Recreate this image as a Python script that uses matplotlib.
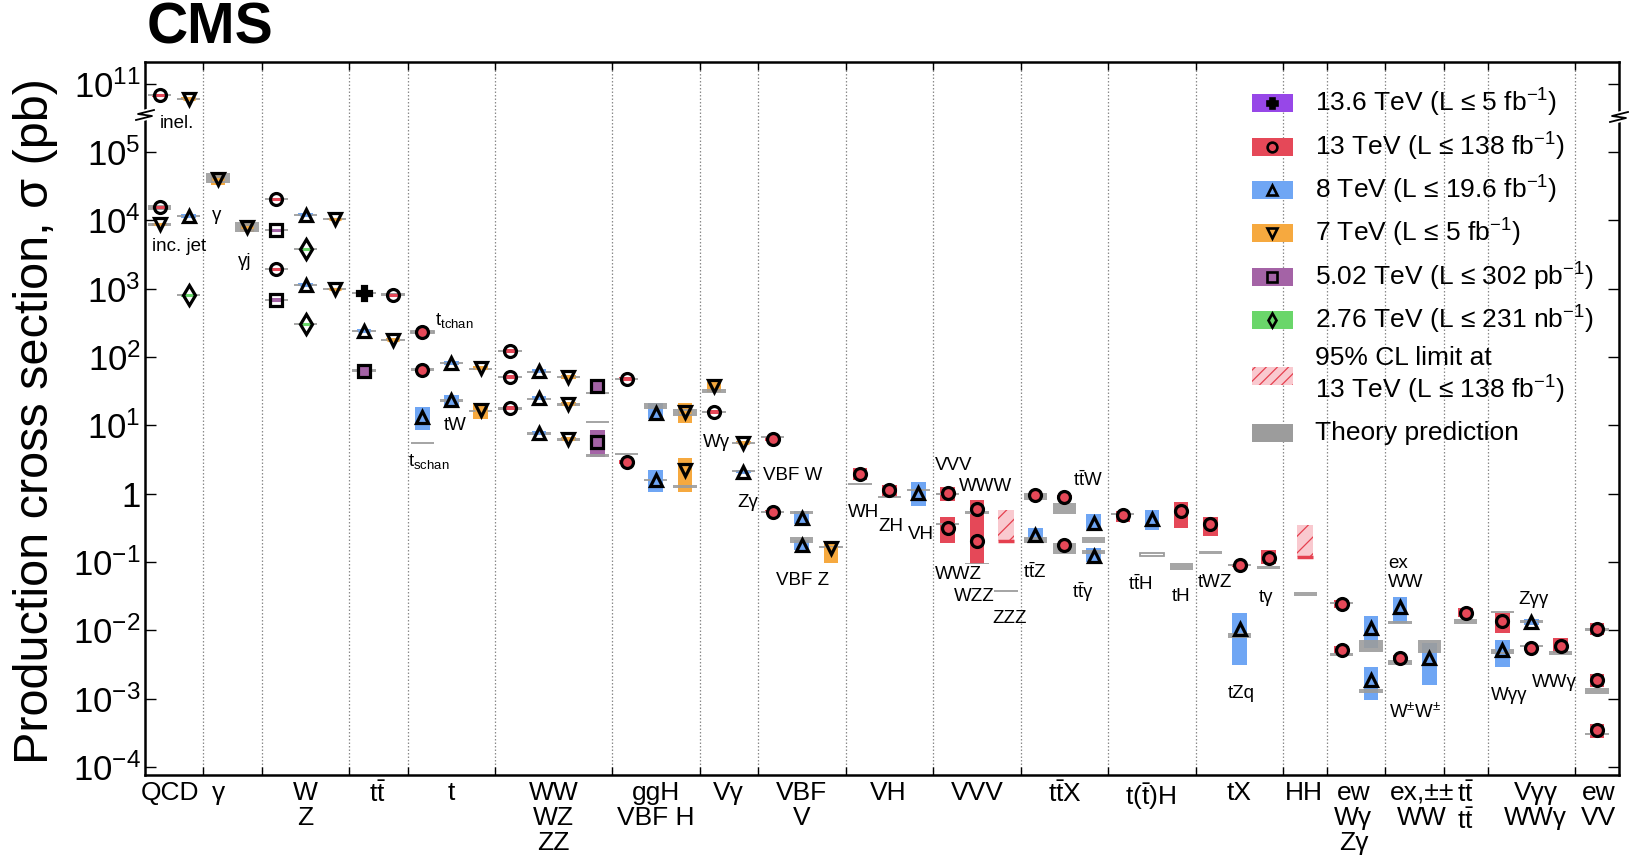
import numpy as np
import matplotlib
matplotlib.use("Agg")
import matplotlib.pyplot as plt
from matplotlib.ticker import FixedLocator, NullLocator

plt.rcParams["font.family"] = ["Liberation Sans", "DejaVu Sans"]
plt.rcParams["mathtext.fontset"] = "custom"
plt.rcParams["mathtext.rm"] = "Liberation Sans"
plt.rcParams["mathtext.it"] = "Liberation Sans:italic"
plt.rcParams["mathtext.bf"] = "Liberation Sans:bold"
plt.rcParams["hatch.linewidth"] = 0.9

# ---------------------------------------------------------------- data
# process groups: label, centre of the label, right-hand boundary (slot units)
group_labels = ["QCD", "γ", "W\nZ", r"$\mathrm{t\bar{t}}$", "t", "WW\nWZ\nZZ",
                "ggH\nVBF H", "Vγ", "VBF\nV", "VH", "VVV", r"$\mathrm{t\bar{t}X}$",
                r"$\mathrm{t(\bar{t})H}$", "tX", "HH", "ew\nWγ\nZγ", "ex,±±\nWW",
                r"$\mathrm{t\bar{t}}$" + "\n" + r"$\mathrm{t\bar{t}}$", "Vγγ\nWWγ", "ew\nVV"]
group_label_x = [0.86, 2.53, 5.48, 7.98, 10.48, 14.0, 17.5, 20.0, 22.5, 25.45,
                 28.5, 31.5, 34.46, 37.48, 39.7, 41.4, 43.75, 45.26, 47.65, 49.8]
group_edges = [2, 4, 7, 9, 12, 16, 19, 21, 24, 27, 30, 33, 36, 39, 40.5,
               42.5, 44.5, 46, 49]

# 13.6 TeV
x_136 = [7.5]
v_136 = [880]
lo_136 = [845]
hi_136 = [915]
fill_136 = [1]

# 13 TeV
x_13 = [0.5, 0.5, 4.5, 4.5, 8.5, 9.5, 9.5, 12.5, 12.5, 12.5, 16.5, 16.5, 19.5,
        21.5, 21.5, 24.5, 25.5, 27.5, 27.5, 28.5, 28.5, 30.5, 31.5, 31.5, 33.5,
        35.5, 36.5, 37.5, 38.5, 41, 41, 43, 45.25, 46.5, 47.5, 48.5,
        49.75, 49.75, 49.75]
v_13 = [6.8e10, 1.55e4, 2.06e4, 1.95e3, 820, 234, 65, 123, 51.4, 18.1, 48, 2.94,
        15.8, 6.35, 0.546, 1.96, 1.14, 1.03, 0.31, 0.60, 0.20, 0.97, 0.90, 0.18,
        0.48, 0.55, 0.36, 0.089, 0.116, 0.0246, 0.0052, 0.0040, 0.0182, 0.0139,
        0.0056, 0.0060, 0.0106, 0.0019, 0.00035]
lo_13 = [6.5e10, 1.47e4, 1.96e4, 1.86e3, 785, 220, 61, 117, 49, 17.2, 45.5, 2.75,
         15.0, 5.95, 0.515, 1.6, 0.9, 0.79, 0.19, 0.38, 0.095, 0.92, 0.85, 0.17,
         0.39, 0.32, 0.24, 0.084, 0.095, 0.0215, 0.0046, 0.0037, 0.0155, 0.0093,
         0.0052, 0.0047, 0.0085, 0.0015, 0.00027]
hi_13 = [7.1e10, 1.63e4, 2.16e4, 2.04e3, 855, 248, 69, 129, 54, 19.0, 50.5, 3.15,
         16.6, 6.75, 0.58, 2.4, 1.35, 1.27, 0.45, 0.82, 0.38, 1.02, 0.95, 0.19,
         0.55, 0.76, 0.46, 0.094, 0.152, 0.0275, 0.0059, 0.0043, 0.0215, 0.018,
         0.0060, 0.0078, 0.013, 0.0023, 0.00042]
fill_13 = [0, 0, 0, 0, 0, 1, 1, 0, 0, 0, 0, 1, 0, 1, 1, 1, 1, 1, 1, 1, 1, 1, 1, 1,
           1, 1, 1, 1, 1, 1, 1, 1, 1, 1, 1, 1, 1, 1, 1]

# 8 TeV
x_8 = [1.5, 5.5, 5.5, 7.5, 9.5, 10.5, 10.5, 13.5, 13.5, 13.5, 17.5, 17.5, 20.5,
       22.5, 22.5, 26.5, 30.5, 32.5, 32.5, 34.5, 37.5, 42, 42, 43, 44, 46.5, 47.5]
v_8 = [1.16e4, 1.2e4, 1.14e3, 242, 13.4, 82, 23.7, 63, 25.3, 7.8, 15.3, 1.6, 2.1,
       0.446, 0.18, 1.03, 0.25, 0.377, 0.124, 0.42, 0.0106, 0.011, 0.0019, 0.0216,
       0.0040, 0.0052, 0.0134]
lo_8 = [1.1e4, 1.14e4, 1.08e3, 229, 8.6, 77.5, 18.7, 59.5, 23.9, 7.35, 12.5, 1.07,
        1.98, 0.36, 0.15, 0.67, 0.19, 0.29, 0.10, 0.29, 0.0031, 0.0056, 0.00096,
        0.013, 0.0016, 0.0029, 0.0121]
hi_8 = [1.23e4, 1.27e4, 1.2e3, 256, 18.7, 87, 28, 67, 26.8, 8.3, 21.3, 2.24, 2.23,
        0.55, 0.21, 1.5, 0.31, 0.51, 0.16, 0.58, 0.018, 0.016, 0.0029, 0.031,
        0.0066, 0.0073, 0.0148]
fill_8 = [0] * len(x_8)

# 7 TeV
x_7 = [1.5, 0.5, 2.5, 3.5, 6.5, 6.5, 8.5, 11.5, 11.5, 14.5, 14.5, 14.5, 18.5,
       18.5, 19.5, 20.5, 23.5]
v_7 = [6.0e10, 8.8e3, 4.03e4, 7.97e3, 1.05e4, 993, 178, 69, 16.9, 51.4, 20.7, 6.3,
       15.8, 2.24, 38, 5.56, 0.162]
lo_7 = [5.7e10, 8.35e3, 3.3e4, 6.7e3, 1.0e4, 945, 169, 65, 12.5, 48.5, 19.5, 5.95,
        10.9, 1.07, 31, 5.25, 0.098]
hi_7 = [6.3e10, 9.3e3, 5.0e4, 9.5e3, 1.1e4, 1040, 187, 73, 21.3, 54.5, 22, 6.7,
        21.3, 3.37, 43, 5.9, 0.20]
fill_7 = [0] * len(x_7)

# 5.02 TeV
x_5 = [4.5, 4.5, 7.5, 15.5, 15.5]
v_5 = [7.2e3, 686, 63, 38, 5.75]
lo_5 = [6.85e3, 652, 59.5, 35.5, 3.5]
hi_5 = [7.55e3, 720, 66.5, 40.5, 8.6]
fill_5 = [0, 0, 1, 1, 0]

# 2.76 TeV
x_276 = [1.5, 5.5, 5.5]
v_276 = [800, 3.8e3, 306]
lo_276 = [765, 3.63e3, 292]
hi_276 = [835, 3.97e3, 320]
fill_276 = [0, 0, 0]

# theory predictions: position, lower and upper edge, hollow style
th_x = [0.5, 1.5, 0.5, 0.5, 1.5, 1.5, 2.5, 3.5, 4.5, 4.5, 4.5, 4.5, 5.5, 5.5,
        5.5, 5.5, 6.5, 6.5, 7.5, 8.5, 7.5, 8.5, 7.5, 9.5, 9.5, 9.5, 10.5, 10.5,
        11.5, 11.5, 12.5, 12.5, 12.5, 13.5, 13.5, 13.5, 14.5, 14.5, 14.5, 15.5,
        15.5, 15.5, 16.5, 16.5, 17.5, 17.5, 18.5, 18.5, 19.5, 19.5, 20.5, 20.5,
        21.5, 21.5, 22.5, 22.5, 23.5, 24.5, 25.5, 26.5, 27.5, 27.5, 28.5, 28.5,
        29.5, 30.5, 30.5, 31.5, 31.5, 32.5, 32.5, 33.5, 34.5, 35.5, 36.5, 37.5,
        37.5, 38.5, 39.75, 41, 41, 42, 42, 43, 43, 44, 45.25, 46.5, 46.5, 47.5,
        47.5, 48.5, 49.75, 49.75, 49.75]
th_lo = [6.6e10, 5.8e10, 1.4e4, 8.4e3, 1.12e4, 770, 3.5e4, 6.8e3, 1.98e4, 6.95e3,
         1.88e3, 665, 1.16e4, 3.65e3, 1.1e3, 295, 1.01e4, 960, 850, 790, 232, 170,
         60, 225, 62, 5.3, 80, 22, 65, 15.5, 118, 49, 17, 58, 23.5, 7.3, 49, 19.5,
         6.0, 29, 11, 3.5, 46, 3.7, 17.5, 1.55, 13.8, 1.22, 30, 15.2, 5.4, 2.05,
         6.5, 0.53, 0.5, 0.19, 0.158, 1.36, 0.87, 1.1, 0.97, 0.35, 0.51, 0.093,
         0.037, 0.82, 0.19, 0.51, 0.13, 0.19, 0.13, 0.49, 0.122, 0.077, 0.13,
         0.086, 0.0078, 0.079, 0.032, 0.024, 0.0042, 0.0049, 0.00122, 0.0125,
         0.0031, 0.0047, 0.0122, 0.0182, 0.0045, 0.0128, 0.0058, 0.0044, 0.0098,
         0.00117, 0.00029]
th_hi = [7.0e10, 6.2e10, 1.66e4, 9.2e3, 1.2e4, 830, 4.9e4, 9.4e3, 2.12e4, 7.45e3,
         2.0e3, 710, 1.24e4, 3.95e3, 1.17e3, 318, 1.09e4, 1030, 910, 860, 252,
         186, 66, 243, 68, 5.8, 86, 24.5, 70, 16.8, 126, 53, 18.3, 62, 25, 7.9, 53,
         21, 6.5, 30.8, 11.6, 3.8, 50, 4.0, 21.3, 1.65, 17.5, 1.32, 34, 16.4, 5.8,
         2.2, 7.0, 0.56, 0.56, 0.23, 0.17, 1.44, 0.93, 1.18, 1.03, 0.37, 0.55,
         0.098, 0.039, 1.03, 0.23, 0.74, 0.19, 0.23, 0.15, 0.53, 0.134, 0.098,
         0.143, 0.093, 0.009, 0.087, 0.036, 0.026, 0.0046, 0.0073, 0.00138,
         0.0138, 0.0037, 0.0073, 0.0149, 0.0195, 0.0053, 0.014, 0.0062, 0.0050,
         0.0108, 0.00145, 0.00031]
th_hollow = [23, 72]      # indices drawn as open bars (s-channel, ttH 8 TeV)

# 95% CL upper limits at 13 TeV: position, limit, top of hatched area
lim_x = [29.5, 39.75]
lim_val = [0.20, 0.12]
lim_top = [0.58, 0.35]

# in-plot process labels: text, x (slot units), y (pb)
proc_text = ["inel.", "inc. jet", "γ", "γj", r"$\mathrm{t_{tchan}}$", "tW",
             r"$\mathrm{t_{schan}}$", "Wγ", "Zγ", "VBF W", "VBF Z", "WH", "ZH",
             "VH", "VVV", "WWW", "WWZ", "WZZ", "ZZZ", r"$\mathrm{t\bar{t}Z}$",
             r"$\mathrm{t\bar{t}W}$", r"$\mathrm{t\bar{t}\gamma}$",
             r"$\mathrm{t\bar{t}H}$", "tH", "tWZ", "tγ", "tZq", "ex", "WW",
             r"$\mathrm{W^{\pm}W^{\pm}}$", "Zγγ", "Wγγ", "WWγ"]
proc_x = [0.51, 0.24, 2.28, 3.2, 9.93, 10.24, 9.01, 19.12, 20.28, 21.17, 21.62,
          24.08, 25.11, 26.14, 27.06, 27.89, 27.06, 27.71, 29.02, 30.08, 31.79,
          31.76, 33.68, 35.18, 36.07, 38.16, 37.1, 42.58, 42.58, 42.62, 47.04,
          46.11, 47.52]
proc_y = [2.6e5, 4.2e3, 1.16e4, 2.46e3, 337, 9.87, 2.94, 5.57, 0.74, 1.83,
          0.0535, 0.527, 0.33, 0.251, 2.57, 1.27, 0.0655, 0.0312, 0.0149, 0.070,
          1.6, 0.0357, 0.0468, 0.0312, 0.05, 0.030, 0.0012, 0.0948, 0.05,
          0.00063, 0.0282, 0.00112, 0.00173]

legend_text = [r"13.6 TeV (L ≤ 5 fb$^{-1}$)", r"13 TeV (L ≤ 138 fb$^{-1}$)",
               r"8 TeV (L ≤ 19.6 fb$^{-1}$)", r"7 TeV (L ≤ 5 fb$^{-1}$)",
               r"5.02 TeV (L ≤ 302 pb$^{-1}$)", r"2.76 TeV (L ≤ 231 nb$^{-1}$)",
               "95% CL limit at\n" + r"13 TeV (L ≤ 138 fb$^{-1}$)",
               "Theory prediction"]

y_ticks = [1e-4, 1e-3, 1e-2, 1e-1, 1, 1e1, 1e2, 1e3, 1e4, 1e5, 1e11]
y_ticklabels = [r"$10^{-4}$", r"$10^{-3}$", r"$10^{-2}$", r"$10^{-1}$", "1",
                r"$10^{1}$", r"$10^{2}$", r"$10^{3}$", r"$10^{4}$", r"$10^{5}$",
                r"$10^{11}$"]

# ---------------------------------------------------------------- styles
C136 = "#9747E8"
C13 = "#E54858"
C8 = "#6FA6F4"
C7 = "#F6A93F"
C5 = "#A463A6"
C276 = "#6AD66A"
CTH = "#9C9C9C"

series = [
    (x_13, v_13, lo_13, hi_13, fill_13, C13, "o", 8.6),
    (x_8, v_8, lo_8, hi_8, fill_8, C8, "^", 9.2),
    (x_7, v_7, lo_7, hi_7, fill_7, C7, "v", 9.2),
    (x_5, v_5, lo_5, hi_5, fill_5, C5, "s", 8.0),
    (x_276, v_276, lo_276, hi_276, fill_276, C276, "d", 9.8),
    (x_136, v_136, lo_136, hi_136, fill_136, "black", "P", 9.5),
]

BOX_W = 0.5
TH_W = 0.8
LIM_W = 0.55

# broken log axis: everything above 1e8 pb is shifted down by five decades
GAP = 5.0


def fwd(v):
    lv = np.log10(np.clip(np.asarray(v, float), 1e-300, None))
    return np.where(lv > 8.0, lv - GAP, lv)


def inv(y):
    y = np.asarray(y, float)
    return np.where(y > 5.54, 10.0 ** (y + GAP), 10.0 ** y)


W, H = 1633, 864
fig = plt.figure(figsize=(W / 100, H / 100), dpi=100)
ax = fig.add_axes([145 / W, 1 - 775 / H, (1619 - 145) / W, (775 - 62) / H])
ax.set_yscale("function", functions=(fwd, inv))
ax.set_xlim(0, 50.5)
ax.set_ylim(10 ** -4.117, 10 ** 11.318)

# group separators
for e in group_edges:
    ax.axvline(e, color="#8a8a8a", lw=0.9, ls=(0, (1.2, 1.6)), zorder=1)

# measurement boxes
for xs, vs, los, his, fs, col, mk, ms in series:
    box_col = C136 if col == "black" else col
    ax.bar(xs, np.subtract(his, los), bottom=los, width=BOX_W, color=box_col,
           lw=0, zorder=2)

# theory bands
for i, (xt, a, b) in enumerate(zip(th_x, th_lo, th_hi)):
    if i in th_hollow:
        ax.bar([xt], [b - a], bottom=[a], width=TH_W, facecolor="white",
               edgecolor=CTH, lw=1.3, zorder=3)
    else:
        ax.bar([xt], [b - a], bottom=[a], width=TH_W, color=CTH, alpha=0.9,
               lw=0, zorder=3)

# 95% CL limits
for xl, lv, tv in zip(lim_x, lim_val, lim_top):
    ax.bar([xl], [tv - lv], bottom=[lv], width=LIM_W, facecolor="#F9C9CF",
           edgecolor="#E5404F", hatch="//", lw=0, zorder=2)
    ax.hlines([lv], xl - LIM_W / 2, xl + LIM_W / 2, colors="#E5404F", lw=2.5,
              zorder=4)

# central values and markers
for xs, vs, los, his, fs, col, mk, ms in series:
    line_col = C136 if col == "black" else col
    xs_a = np.asarray(xs, float)
    ax.hlines(vs, xs_a - 0.2, xs_a + 0.2, colors=line_col, lw=2.2, zorder=4)
    for xi, vi, fi in zip(xs, vs, fs):
        face = col if fi else "none"
        ax.plot([xi], [vi], ls="none", marker=mk, ms=ms, mew=2.3, mec="black",
                mfc=face, zorder=5)

# process labels inside the frame
for t, xp, yp in zip(proc_text, proc_x, proc_y):
    ax.text(xp, yp, t, fontsize=13.5, ha="left", va="center", zorder=6)

# axes, ticks
ax.yaxis.set_major_locator(FixedLocator(y_ticks))
ax.yaxis.set_minor_locator(NullLocator())
ax.set_yticklabels(y_ticklabels)
ax.set_xticks(group_edges)
ax.set_xticklabels([])
ax.tick_params(axis="y", which="major", direction="in", length=8, width=1.0,
               left=True, right=True, labelsize=25, pad=3)
ax.tick_params(axis="x", which="major", direction="in", length=6, width=1.0,
               top=True, bottom=True)
for sp in ax.spines.values():
    sp.set_linewidth(1.8)

for t, xp in zip(group_labels, group_label_x):
    ax.text(xp, -0.008, t, transform=ax.get_xaxis_transform(), fontsize=19,
            ha="center", va="top", linespacing=1.05)

# axis-break marks on both vertical axes
for xpx, ypx in [(145, 115), (1619, 117)]:
    zx = np.array([-9, 7, -7, 9]) + xpx
    zy = np.array([5, 1, -1, -5]) + ypx
    fig.add_artist(plt.Line2D(zx / W, 1 - zy / H, color="white", lw=4.0,
                              transform=fig.transFigure))
    fig.add_artist(plt.Line2D(zx / W, 1 - zy / H, color="black", lw=1.3,
                              transform=fig.transFigure))

# legend
leg_rows = [103, 147, 190, 233, 277, 320, 376, 433]
leg_cols = [C136, C13, C8, C7, C5, C276, None, CTH]
leg_mk = ["P", "o", "^", "v", "s", "d", None, None]
for t, ypx, col, mk in zip(legend_text, leg_rows, leg_cols, leg_mk):
    x0, x1 = 1252 / W, 1293 / W
    h = 18 / H
    yc = 1 - ypx / H
    if col is None:
        fig.add_artist(plt.Rectangle((x0, yc - h / 2), x1 - x0, h,
                                     facecolor="#F9C9CF", edgecolor="#E5404F",
                                     hatch="///", lw=0,
                                     transform=fig.transFigure))
    else:
        fig.add_artist(plt.Rectangle((x0, yc - h / 2), x1 - x0, h,
                                     facecolor=col, edgecolor="none",
                                     transform=fig.transFigure))
    if mk is not None:
        fig.add_artist(plt.Line2D([(x0 + x1) / 2], [yc], marker=mk, ms=7,
                                  mew=1.9, mec="black",
                                  mfc="black" if mk == "P" else "none",
                                  ls="none", transform=fig.transFigure))
    fig.text(1315 / W, yc, t, fontsize=19, ha="left", va="center",
             linespacing=1.15)

fig.text(147 / W, 1 - 44 / H, "CMS", fontsize=41, fontweight="bold",
         ha="left", va="baseline")
fig.text(36 / W, 1 - 421 / H, "Production cross section, σ (pb)", fontsize=35,
         rotation=90, ha="center", va="center")

fig.savefig("out.png", dpi=100)
